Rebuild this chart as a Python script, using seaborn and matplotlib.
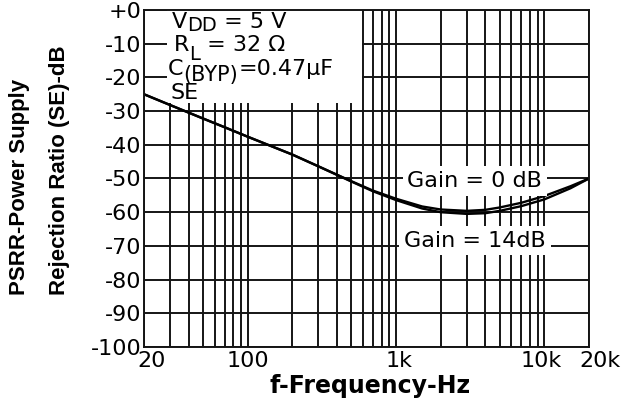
import numpy as np
import pandas as pd
import matplotlib
matplotlib.use("Agg")
import matplotlib.pyplot as plt
import matplotlib.transforms as mtransforms
from matplotlib.patches import Rectangle
from matplotlib.ticker import FixedLocator, NullFormatter, LogLocator
import seaborn as sns

# ---------------- data ----------------
freq = [20, 30, 50, 70, 100, 200, 300, 500, 700, 1000, 1500, 2000, 3000,
        4000, 5000, 7000, 10000, 15000, 20000]
gain0_db = [-25, -28.2, -32.2, -34.8, -37.6, -42.9, -46.4, -50.8, -53.6, -56.0,
            -58.3, -59.2, -59.6, -59.3, -58.6, -57.2, -55.2, -52.3, -50]
gain14_db = [-25, -28.2, -32.2, -34.8, -37.6, -42.9, -46.4, -50.9, -53.8, -56.4,
             -58.9, -60.0, -60.5, -60.3, -59.6, -58.2, -56.2, -52.9, -50]
series_names = ["Gain = 0 dB", "Gain = 14dB"]

xtick_vals = [20, 100, 1000, 10000, 20000]
xtick_labels = ["20", "100", "1k", "10k", "20k"]
ytick_vals = [0, -10, -20, -30, -40, -50, -60, -70, -80, -90, -100]
ytick_labels = ["+0", "-10", "-20", "-30", "-40", "-50", "-60", "-70", "-80", "-90", "-100"]

xlabel = "f-Frequency-Hz"
ylabel_lines = ["PSRR-Power Supply", "Rejection Ratio (SE)-dB"]

df = pd.DataFrame({
    "freq": freq * 2,
    "psrr": gain0_db + gain14_db,
    "gain": [series_names[0]] * len(freq) + [series_names[1]] * len(freq),
})

# ---------------- figure ----------------
sns.set_theme(style="white")
plt.rcParams["font.family"] = ["DejaVu Sans"]
plt.rcParams["mathtext.default"] = "regular"
plt.rcParams["text.color"] = "black"
plt.rcParams["axes.labelcolor"] = "black"

W, H = 638, 405
fig = plt.figure(figsize=(W / 100, H / 100), dpi=100)
L, R, T, B = 144, 589, 10, 347
ax = fig.add_axes([L / W, (H - B) / H, (R - L) / W, (B - T) / H])

sns.lineplot(data=df, x="freq", y="psrr", hue="gain",
             palette=["black", "black"], linewidth=1.7, legend=False,
             ax=ax, zorder=2)

ax.set_xscale("log")
ax.set_xlim(20, 20000)
ax.set_ylim(-100, 0)

ax.xaxis.set_major_locator(FixedLocator(xtick_vals))
ax.xaxis.set_minor_locator(LogLocator(base=10, subs=np.arange(2, 10)))
ax.xaxis.set_minor_formatter(NullFormatter())
ax.set_xticks(xtick_vals)
ax.set_xticklabels(xtick_labels)
ax.set_yticks(ytick_vals)
ax.set_yticklabels(ytick_labels)
ax.tick_params(axis="both", which="both", length=0, labelsize=16,
               colors="black", labelcolor="black")
ax.tick_params(axis="x", pad=3)
ax.tick_params(axis="y", pad=2)

ax.set_axisbelow(True)
ax.grid(True, which="both", color="#151515", linewidth=1.4)
for s in ax.spines.values():
    s.set_color("#151515")
    s.set_linewidth(1.4)
    s.set_visible(True)

ax.set_xlabel(xlabel, fontsize=17, fontweight="bold", va="baseline", color="black")
ax.xaxis.set_label_coords((370.5 - L) / (R - L), (B - 393) / (B - T))
ax.set_ylabel("")

# x tick label nudges (pixels)
nudges = [8, 0, 3, -3, 11]
for lab, dx in zip(ax.get_xticklabels(), nudges):
    lab.set_transform(lab.get_transform() +
                      mtransforms.ScaledTranslation(dx / 100, 0, fig.dpi_scale_trans))

# y label as two lines
fig.text(20 / W, (H - 295) / H, ylabel_lines[0], rotation=90, ha="center", va="bottom",
         fontsize=16, fontweight="bold", color="black",
         family=["Liberation Sans", "DejaVu Sans"])
fig.text(59.5 / W, (H - 295) / H, ylabel_lines[1], rotation=90, ha="center", va="bottom",
         fontsize=16, fontweight="bold", color="black",
         family=["Liberation Sans", "DejaVu Sans"])

# white condition box in the upper left
ax.add_patch(Rectangle(((167 - L) / (R - L), (B - 103) / (B - T)),
                       (362 - 167) / (R - L), (103 - T) / (B - T),
                       transform=ax.transAxes, facecolor="white", edgecolor="none",
                       zorder=1.5))

renderer = fig.canvas.get_renderer()


def rich_line(x_px, base_px, pieces):
    """pieces: (text, fontsize, drop_px) - drop_px > 0 lowers the piece."""
    x = x_px
    for txt, size, drop in pieces:
        t = fig.text(x / W, (H - (base_px + drop)) / H, txt, fontsize=size,
                     ha="left", va="baseline", color="black", zorder=5)
        x += t.get_window_extent(renderer).width


rich_line(172, 28, [("V", 16, 0), ("DD", 14, 3), (" = 5 V", 16, 0)])
rich_line(174, 51, [("R", 16, 0), ("L", 14, 9), (" = 32 Ω", 16, 0)])
rich_line(168, 75, [("C", 16, 0), ("(BYP)", 15, 6), ("=0.47μF", 16, 0)])
rich_line(170, 99, [("SE", 16, 0)])

# gain annotations
bb = dict(boxstyle="square,pad=0.22", facecolor="white", edgecolor="none")
ax.text(3400, -52.6, series_names[0], ha="center", va="baseline", fontsize=16,
        bbox=bb, zorder=4, color="black")
ax.text(3420, -70.2, series_names[1], ha="center", va="baseline", fontsize=16,
        bbox=bb, zorder=4, color="black")

fig.savefig("out.png", dpi=100, facecolor="white")
